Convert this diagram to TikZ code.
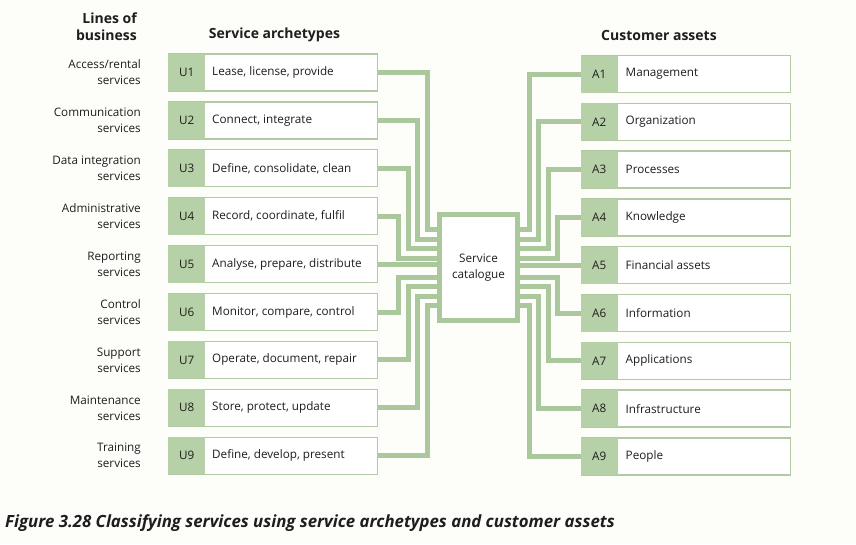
\documentclass[tikz,border=0pt]{standalone}
\usepackage{fontspec}
\setmainfont{Open Sans}
\definecolor{bgpage}{RGB}{253,254,250}
\definecolor{linkgreen}{RGB}{170,200,155}
\definecolor{taggreen}{RGB}{182,208,167}
\definecolor{rimgreen}{RGB}{178,202,163}
\definecolor{inkdark}{RGB}{30,30,30}
\begin{document}
\begin{tikzpicture}[x=1pt, y=-1pt, font=\fontsize{11.7}{16}\selectfont, text=inkdark, line join=miter,
    box/.style={draw=rimgreen, line width=1.3pt, fill=white, minimum width=209pt, minimum height=37pt, anchor=west, inner sep=0pt},
    tag/.style={fill=taggreen, minimum width=37pt, minimum height=37pt, anchor=west, inner sep=0pt},
    txt/.style={anchor=west, inner sep=0pt},
    lob/.style={align=right, anchor=east, inner sep=0pt},
    head/.style={font=\fontsize{14}{17}\selectfont\bfseries},
    link/.style={draw=linkgreen, line width=5pt}]
    \fill[bgpage] (0,0) rectangle (856,544);
    % column heads
    \node[head, lob] (lobhead) at (137,26.5) {Lines of\\business};
    \node[head] (archhead) at (274.5,35) {Service archetypes};
    \node[head] (assethead) at (659,35) {Customer assets};
    % service archetypes
    \foreach \i/\lb/\tx in {1/{Access/rental\\services}/{Lease, license, provide},
        2/{Communication\\services}/{Connect, integrate},
        3/{Data integration\\services}/{Define, consolidate, clean},
        4/{Administrative\\services}/{Record, coordinate, fulfil},
        5/{Reporting\\services}/{Analyse, prepare, distribute},
        6/{Control\\services}/{Monitor, compare, control},
        7/{Support\\services}/{Operate, document, repair},
        8/{Maintenance\\services}/{Store, protect, update},
        9/{Training\\services}/{Define, develop, present}}{
        \node[box] (ua\i) at (168,{72.5+47.9*(\i-1)}) {};
        \node[tag] (u\i) at (ua\i.west) {U\i};
        \node[txt] (ut\i) at ([xshift=44pt]ua\i.west) {\tx};
        \node[lob] (ul\i) at ([xshift=-27pt]ua\i.west) {\lb};
    }
    % customer assets
    \foreach \j/\tx in {1/Management, 2/Organization, 3/Processes, 4/Knowledge,
        5/Financial assets, 6/Information, 7/Applications, 8/Infrastructure, 9/People}{
        \node[box] (aa\j) at (580.5,{74+47.8*(\j-1)}) {};
        \node[tag] (a\j) at (aa\j.west) {A\j};
        \node[txt] (at\j) at ([xshift=45pt]aa\j.west) {\tx};
    }
    \node[draw=linkgreen, line width=5pt, fill=white, minimum width=78pt, minimum height=106pt, align=center] (cat) at (478.5,267.5) {Service\\catalogue};
    % connectors
    \foreach \i in {1,2,3,4,6,7,8,9}{
        \pgfmathsetmacro\vl{427-9.5*(4-abs(\i-5))}
        \pgfmathsetmacro\vr{529+9.5*(4-abs(\i-5))}
        \pgfmathsetmacro\s{267.5+9.5*(\i-5)}
        \draw[link] (ua\i.east) -| (\vl,\s) -- (cat.west |- 0,\s);
        \draw[link] (aa\i.west) -| (\vr,\s) -- (cat.east |- 0,\s);
    }
    \draw[link] (ua5.east) -- (ua5.east -| cat.west);
    \draw[link] (aa5.west) -- (aa5.west -| cat.east);
    \node[anchor=base west, inner sep=0pt, font=\fontsize{16.8}{18}\selectfont\bfseries\itshape] (figcap) at (5,527) {Figure 3.28 Classifying services using service archetypes and customer assets};
\end{tikzpicture}
\end{document}
